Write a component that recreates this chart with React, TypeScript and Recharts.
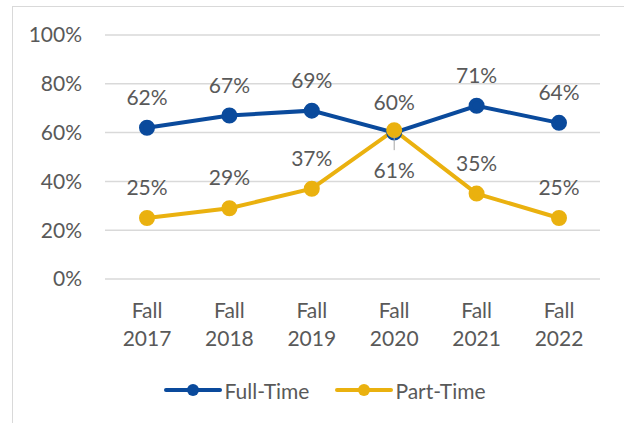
import { LineChart, Line, XAxis, YAxis, CartesianGrid, Legend, LabelList } from "recharts";

const years = ["2017", "2018", "2019", "2020", "2021", "2022"];
const fullTime = [62, 67, 69, 60, 71, 64];
const partTime = [25, 29, 37, 61, 35, 25];
const yTicks = [0, 20, 40, 60, 80, 100];

const BLUE = "#0A4A9C";
const GOLD = "#EAB10F";
const TEXT = "#595959";
const FONT = "Lato, 'Noto Sans', sans-serif";
const FS = 21;

const data = years.map((y, i) => ({ term: y, full: fullTime[i], part: partTime[i] }));

const XTick = ({ x, y, payload }: any) => (
  <g transform={`translate(${x},${y})`}>
    <text textAnchor="middle" fill={TEXT} fontSize={FS} fontFamily={FONT}>
      <tspan x={0} dy={31}>Fall</tspan>
      <tspan x={0} dy={28}>{payload.value}</tspan>
    </text>
  </g>
);

const fullLabel = ({ x, y, value }: any) => (
  <text x={x} y={y - 23} textAnchor="middle" fill={TEXT} fontSize={FS} fontFamily={FONT}>
    {value}%
  </text>
);

const partLabel = ({ x, y, value, index }: any) => {
  // 2020 label sits under the crossing, with a small leader line
  if (index === 3) {
    return (
      <g>
        <line x1={x} y1={y + 6} x2={x} y2={y + 20} stroke="#A6A6A6" strokeWidth={1} />
        <text x={x} y={y + 48} textAnchor="middle" fill={TEXT} fontSize={FS} fontFamily={FONT}>
          {value}%
        </text>
      </g>
    );
  }
  return (
    <text x={x} y={y - 23} textAnchor="middle" fill={TEXT} fontSize={FS} fontFamily={FONT}>
      {value}%
    </text>
  );
};

const LegendBox = () => (
  <div style={{ display: "flex", justifyContent: "center", alignItems: "center", height: 30, fontFamily: FONT, fontSize: FS, color: TEXT, paddingLeft: 76 }}>
    {[["Full-Time", BLUE], ["Part-Time", GOLD]].map(([name, c]) => (
      <div key={name} style={{ display: "flex", alignItems: "center", marginRight: 26 }}>
        <svg width={58} height={16}>
          <line x1={2} y1={8} x2={56} y2={8} stroke={c} strokeWidth={4} strokeLinecap="round" />
          <circle cx={29} cy={8} r={6} fill={c} />
        </svg>
        <span style={{ marginLeft: 2 }}>{name}</span>
      </div>
    ))}
  </div>
);

export default function App() {
  return (
    <div style={{ position: "absolute", left: 0, top: 0, width: 624, height: 423, overflow: "hidden", background: "#fff" }}>
      <div style={{ position: "absolute", left: 12, top: 6, width: 700, height: 500, border: "1px solid #D9D9D9" }} />
      <div style={{ position: "absolute", left: 0, top: 0 }}>
        <LineChart width={624} height={423} data={data} margin={{ top: 35, right: 24, bottom: 18, left: 0 }}>
          <CartesianGrid vertical={false} stroke="#D9D9D9" strokeWidth={1.5} />
          <XAxis dataKey="term" axisLine={false} tickLine={false} height={96} tick={<XTick />} interval={0} padding={{ left: 42, right: 41 }} />
          <YAxis
            domain={[0, 100]}
            ticks={yTicks}
            width={105}
            axisLine={false}
            tickLine={false}
            tickMargin={17}
            tickFormatter={(v) => `${v}%`}
            tick={{ fill: TEXT, fontSize: FS, fontFamily: FONT }}
          />
          <Legend verticalAlign="bottom" height={30} content={<LegendBox />} />
          <Line dataKey="full" name="Full-Time" stroke={BLUE} strokeWidth={4} dot={{ r: 6, fill: BLUE, stroke: BLUE }} isAnimationActive={false}>
            <LabelList dataKey="full" content={fullLabel} />
          </Line>
          <Line dataKey="part" name="Part-Time" stroke={GOLD} strokeWidth={4} dot={{ r: 6, fill: GOLD, stroke: GOLD }} isAnimationActive={false}>
            <LabelList dataKey="part" content={partLabel} />
          </Line>
        </LineChart>
      </div>
    </div>
  );
}
